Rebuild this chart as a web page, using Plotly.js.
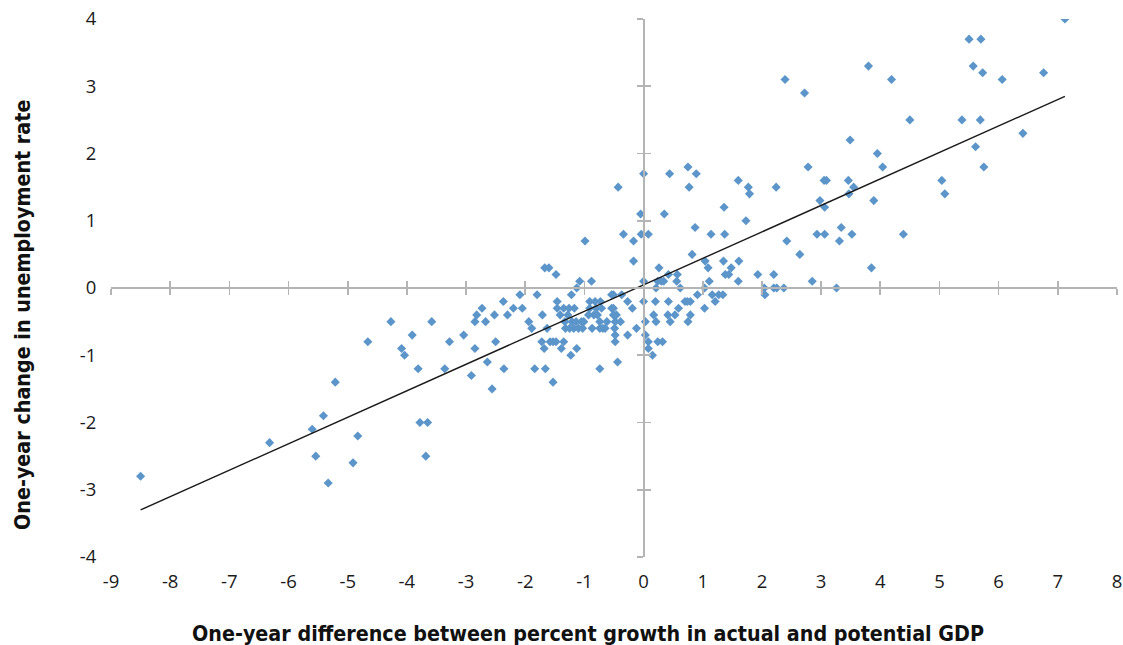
<!DOCTYPE html>
<html>
<head>
<meta charset="utf-8">
<script src="https://cdn.plot.ly/plotly-3.0.1.min.js"></script>
<style>
  html, body { margin: 0; padding: 0; background: #ffffff; }
  #chart { width: 1123px; height: 645px; }
</style>
</head>
<body>
<div id="chart"></div>
<script>
// One-year difference between percent growth in actual and potential GDP
const gapX = [
  -8.50, -6.32, -5.60, -5.41, -5.54, -5.21, -5.33, -4.83, -4.91, -4.66,
  -4.27, -4.09, -4.04, -3.91, -3.81, -3.78, -3.65, -3.68, -3.58, -3.36,
  -3.28, -3.04, -2.91, -2.85, -2.85, -2.82, -2.73, -2.67, -2.64, -2.56,
  -2.52, -2.50, -2.37, -2.36, -2.30, -2.20, -2.09, -2.05, -1.94, -1.89,
  -1.84, -1.80, -1.72, -1.71, -1.68, -1.66, -1.67, -1.60, -1.63, -1.58,
  -1.53, -1.48, -1.53, -1.48, -1.46, -1.46, -1.41, -1.39, -1.35, -1.35,
  -1.33, -1.32, -1.28, -1.26, -1.25, -1.23, -1.22, -1.21, -1.18, -1.17,
  -1.14, -1.13, -1.13, -1.10, -1.08, -1.05, -1.03, -1.01, -0.99, -0.93,
  -0.91, -0.91, -0.88, -0.87, -0.84, -0.82, -0.80, -0.78, -0.74, -0.74,
  -0.74, -0.73, -0.71, -0.69, -0.65, -0.62, -0.54, -0.54, -0.51, -0.51,
  -0.51, -0.48, -0.49, -0.48, -0.48, -0.46, -0.44, -0.43, -0.39, -0.37,
  -0.34, -0.27, -0.27, -0.19, -0.17, -0.17, -0.12, -0.05, -0.04, 0.00,
  0.00, 0.00, 0.03, 0.03, 0.08, 0.08, 0.15, 0.17, 0.20, 0.21,
  0.21, 0.24, 0.32, 0.24, 0.30, 0.34, 0.26, 0.35, 0.42, 0.42,
  0.41, 0.45, 0.44, 0.53, 0.56, 0.57, 0.59, 0.62, 0.70, 0.74,
  0.79, 0.75, 0.79, 0.75, 0.77, 0.82, 0.87, 0.89, 0.91, 1.03,
  1.03, 1.04, 1.09, 1.11, 1.14, 1.16, 1.21, 1.27, 1.34, 1.35,
  1.36, 1.37, 1.38, 1.44, 1.48, 1.60, 1.60, 1.61, 1.73, 1.77,
  1.79, 1.93, 2.04, 2.05, 2.20, 2.20, 2.24, 2.25, 2.37, 2.39,
  2.42, 2.64, 2.72, 2.78, 2.85, 2.93, 2.98, 3.05, 3.09, 3.06,
  3.06, 3.26, 3.31, 3.34, 3.46, 3.47, 3.49, 3.52, 3.55, 3.80,
  3.85, 3.89, 3.95, 4.04, 4.19, 4.39, 4.50, 5.04, 5.09, 5.38,
  5.50, 5.57, 5.61, 5.69, 5.70, 5.73, 5.75, 6.06, 6.41, 6.76,
  7.12, 0.08
];
// One-year change in unemployment rate
const unempY = [
  -2.8, -2.3, -2.1, -1.9, -2.5, -1.4, -2.9, -2.2, -2.6, -0.8,
  -0.5, -0.9, -1.0, -0.7, -1.2, -2.0, -2.0, -2.5, -0.5, -1.2,
  -0.8, -0.7, -1.3, -0.9, -0.5, -0.4, -0.3, -0.5, -1.1, -1.5,
  -0.4, -0.8, -0.2, -1.2, -0.4, -0.3, -0.1, -0.3, -0.5, -0.6,
  -1.2, -0.1, -0.8, -0.4, -0.9, -1.2, 0.3, 0.3, -0.6, -0.8,
  -0.8, -0.8, -1.4, 0.2, -0.2, -0.3, -0.4, -0.9, -0.8, -0.3,
  -0.5, -0.6, -0.4, -0.3, -0.6, -1.0, -0.1, -0.5, -0.6, -0.3,
  -0.5, 0.0, -0.9, -0.6, 0.1, -0.5, -0.6, -0.5, 0.7, -0.4,
  -0.2, -0.3, 0.1, -0.6, -0.4, -0.2, -0.3, -0.4, -0.5, -0.6,
  -1.2, -0.2, -0.3, -0.6, -0.6, -0.5, -0.1, -0.3, -0.1, -0.3,
  -0.4, -0.5, -0.6, -0.7, -0.8, -0.4, -1.1, 1.5, -0.5, -0.1,
  0.8, -0.2, -0.7, -0.3, 0.7, 0.4, -0.6, 1.1, 0.8, 1.7,
  0.1, -0.2, -0.5, -0.7, -0.8, -0.9, -1.0, -0.4, -0.2, -0.5,
  0.0, -0.8, -0.8, 0.1, 0.1, 0.1, 0.3, 1.1, 0.2, -0.2,
  -0.4, -0.5, 1.7, -0.4, 0.1, 0.2, -0.3, 0.0, -0.2, -0.2,
  -0.2, -0.5, -0.4, 1.8, 1.5, 0.5, 0.9, 1.7, -0.1, 0.0,
  -0.3, 0.4, 0.3, 0.1, 0.8, -0.1, -0.2, -0.1, -0.1, 0.4,
  1.2, 0.8, 0.2, 0.2, 0.3, 1.6, 0.1, 0.4, 1.0, 1.5,
  1.4, 0.2, 0.0, -0.1, 0.2, 0.0, 1.5, 0.0, 0.0, 3.1,
  0.7, 0.5, 2.9, 1.8, 0.1, 0.8, 1.3, 1.6, 1.6, 1.2,
  0.8, 0.0, 0.7, 0.9, 1.6, 1.4, 2.2, 0.8, 1.5, 3.3,
  0.3, 1.3, 2.0, 1.8, 3.1, 0.8, 2.5, 1.6, 1.4, 2.5,
  3.7, 3.3, 2.1, 2.5, 3.7, 3.2, 1.8, 3.1, 2.3, 3.2,
  4.0, 0.8
];
// Fitted trend line end points
const fitX = [-8.5, 7.12];
const fitY = [-3.3, 2.85];

const xTicks = [-9, -8, -7, -6, -5, -4, -3, -2, -1, 0, 1, 2, 3, 4, 5, 6, 7, 8];
const yTicks = [-4, -3, -2, -1, 0, 1, 2, 3, 4];

const xTitle = 'One-year difference between percent growth in actual and potential GDP';
const yTitle = 'One-year change in unemployment rate';

const X_RANGE = [-9, 8];
const Y_RANGE = [-4, 4];
const AXIS_GREY = '#b4b4b4';

const traces = [
  {
    x: gapX, y: unempY, type: 'scatter', mode: 'markers',
    marker: { symbol: 'diamond', size: 7, color: '#5b95c9', line: { width: 0 } },
    hoverinfo: 'skip'
  },
  {
    x: fitX, y: fitY, type: 'scatter', mode: 'lines',
    line: { color: '#1a1a1a', width: 1.4 },
    hoverinfo: 'skip'
  },
  // empty traces so that the crossing axes (through zero) are drawn
  { x: [], y: [], xaxis: 'x2', yaxis: 'y2', type: 'scatter', mode: 'markers' },
  { x: [], y: [], xaxis: 'x3', yaxis: 'y3', type: 'scatter', mode: 'markers' }
];

const tickFont = { family: 'Open Sans, DejaVu Sans, sans-serif', size: 18.5, color: '#1a1a1a' };
const titleFont = { family: 'DejaVu Sans Condensed, DejaVu Sans, sans-serif', size: 21.3, color: '#111111', weight: 'bold' };

function crossAxisX(side) {
  return {
    overlaying: 'x', anchor: 'free', position: (0 - Y_RANGE[0]) / (Y_RANGE[1] - Y_RANGE[0]),
    range: X_RANGE, tickmode: 'array', tickvals: xTicks, showticklabels: false,
    showline: true, linecolor: AXIS_GREY, linewidth: 2,
    ticks: side, ticklen: 6, tickwidth: 1.6, tickcolor: AXIS_GREY,
    showgrid: false, zeroline: false, fixedrange: true
  };
}
function crossAxisY(side) {
  return {
    overlaying: 'y', anchor: 'free', position: (0 - X_RANGE[0]) / (X_RANGE[1] - X_RANGE[0]),
    range: Y_RANGE, tickmode: 'array', tickvals: yTicks, showticklabels: false,
    showline: true, linecolor: AXIS_GREY, linewidth: 2,
    ticks: side, ticklen: 6, tickwidth: 1.6, tickcolor: AXIS_GREY,
    showgrid: false, zeroline: false, fixedrange: true
  };
}

const layout = {
  width: 1123, height: 645,
  margin: { l: 111, r: 6, t: 19, b: 88 },
  paper_bgcolor: '#ffffff', plot_bgcolor: '#ffffff',
  showlegend: false, hovermode: false,
  xaxis: {
    range: X_RANGE, tickmode: 'array', tickvals: xTicks,
    ticktext: xTicks.map(String),
    showline: false, showgrid: false, zeroline: false,
    ticks: 'outside', ticklen: 8, tickcolor: 'rgba(0,0,0,0)',
    tickfont: tickFont, automargin: false
  },
  yaxis: {
    range: Y_RANGE, tickmode: 'array', tickvals: yTicks,
    ticktext: yTicks.map(String),
    showline: false, showgrid: false, zeroline: false,
    ticks: 'outside', ticklen: 10, tickcolor: 'rgba(0,0,0,0)',
    tickfont: tickFont, automargin: false
  },
  xaxis2: crossAxisX('outside'),
  yaxis2: crossAxisY('outside'),
  xaxis3: crossAxisX('inside'),
  yaxis3: crossAxisY('inside'),
  annotations: [
    {
      text: xTitle, xref: 'paper', yref: 'paper',
      x: (588 - 111) / 1006, y: (557 - 633) / 538,
      xanchor: 'center', yanchor: 'middle', showarrow: false, font: titleFont
    },
    {
      text: yTitle, xref: 'paper', yref: 'paper', textangle: -90,
      x: (22 - 111) / 1006, y: (557 - 315) / 538,
      xanchor: 'center', yanchor: 'middle', showarrow: false, font: titleFont
    }
  ]
};

Plotly.newPlot('chart', traces, layout, { staticPlot: true, displayModeBar: false });
</script>
</body>
</html>
